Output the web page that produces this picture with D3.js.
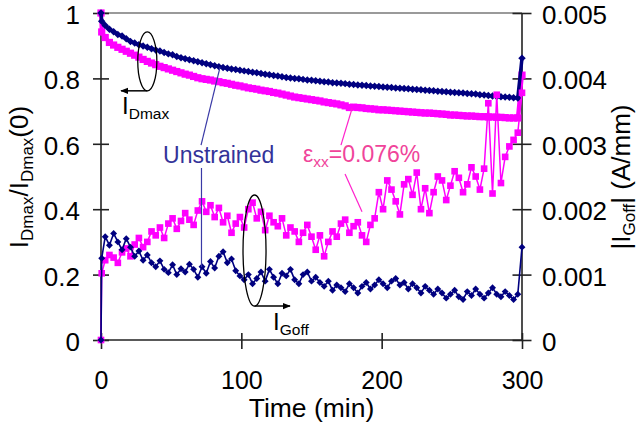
<!DOCTYPE html>
<html>
<head>
<meta charset="utf-8">
<script src="https://cdn.jsdelivr.net/npm/d3@7"></script>
<style>
  html, body { margin: 0; padding: 0; background: #fff; }
  svg { display: block; }
</style>
</head>
<body>
<svg id="chart" width="639" height="427"></svg>
<script>
// Sampling times (min): start at 0, first reading at 0.5 min, then every 3 min
const minutes = [0, 0.5].concat(d3.range(3, 301, 3));

// Normalised drain current I_Dmax / I_Dmax(0)  (left axis)
const idmaxUnstrained = [
  1.000, 0.975,
  0.962, 0.950, 0.943, 0.934, 0.930, 0.921, 0.913, 0.908, 0.903, 0.899,
  0.895, 0.891, 0.887, 0.884, 0.879, 0.875, 0.872, 0.867, 0.863, 0.860,
  0.857, 0.854, 0.851, 0.848, 0.845, 0.842, 0.839, 0.836, 0.833, 0.831,
  0.829, 0.827, 0.825, 0.823, 0.821, 0.819, 0.817, 0.815, 0.813, 0.811,
  0.809, 0.807, 0.805, 0.803, 0.801, 0.800, 0.799, 0.797, 0.795, 0.794,
  0.793, 0.791, 0.790, 0.789, 0.787, 0.786, 0.785, 0.784, 0.782, 0.781,
  0.780, 0.779, 0.778, 0.777, 0.776, 0.775, 0.774, 0.773, 0.772, 0.771,
  0.770, 0.769, 0.768, 0.767, 0.766, 0.765, 0.764, 0.763, 0.762, 0.761,
  0.760, 0.759, 0.758, 0.757, 0.756, 0.755, 0.754, 0.753, 0.752, 0.750,
  0.749, 0.748, 0.746, 0.745, 0.744, 0.743, 0.742, 0.741, 0.740, 0.862
];
const idmaxStrained = [
  1.000, 0.942,
  0.925, 0.910, 0.902, 0.895, 0.889, 0.883, 0.877, 0.871, 0.865, 0.858,
  0.852, 0.847, 0.842, 0.837, 0.833, 0.829, 0.825, 0.821, 0.817, 0.813,
  0.810, 0.806, 0.802, 0.799, 0.797, 0.795, 0.792, 0.790, 0.787, 0.785,
  0.782, 0.779, 0.777, 0.774, 0.771, 0.769, 0.767, 0.764, 0.762, 0.760,
  0.757, 0.755, 0.752, 0.749, 0.746, 0.743, 0.741, 0.739, 0.737, 0.735,
  0.733, 0.731, 0.728, 0.726, 0.724, 0.722, 0.719, 0.716, 0.711, 0.712,
  0.711, 0.710, 0.708, 0.707, 0.706, 0.704, 0.704, 0.703, 0.702, 0.701,
  0.700, 0.699, 0.698, 0.697, 0.696, 0.695, 0.694, 0.694, 0.693, 0.692,
  0.691, 0.690, 0.688, 0.688, 0.687, 0.686, 0.685, 0.685, 0.684, 0.683,
  0.683, 0.682, 0.682, 0.681, 0.681, 0.680, 0.679, 0.679, 0.679, 0.810
];

// Gate off-state leakage |I_Goff| in A/mm  (right axis)
const igoffUnstrained = [
  0, 0.00125,
  0.00158, 0.00145, 0.00163, 0.00150, 0.00138, 0.00155, 0.00142, 0.00128, 0.00136, 0.00122,
  0.00130, 0.00118, 0.00112, 0.00121, 0.00108, 0.00103, 0.00115, 0.00100, 0.00109, 0.00104,
  0.00116, 0.00108, 0.00096, 0.00112, 0.00102, 0.00120, 0.00110, 0.00128, 0.00135, 0.00118,
  0.00124, 0.00106, 0.00098, 0.00092, 0.00100, 0.00086, 0.00094, 0.00104, 0.00090, 0.00108,
  0.00096, 0.00086, 0.00102, 0.00098, 0.00108, 0.00092, 0.00086, 0.00100, 0.00104, 0.00090,
  0.00096, 0.00088, 0.00082, 0.00090, 0.00076, 0.00084, 0.00080, 0.00074, 0.00086, 0.00080,
  0.00072, 0.00082, 0.00088, 0.00078, 0.00084, 0.00092, 0.00086, 0.00080, 0.00090, 0.00094,
  0.00084, 0.00088, 0.00078, 0.00086, 0.00080, 0.00072, 0.00082, 0.00076, 0.00070, 0.00078,
  0.00072, 0.00064, 0.00070, 0.00076, 0.00066, 0.00062, 0.00074, 0.00068, 0.00078, 0.00070,
  0.00064, 0.00072, 0.00080, 0.00070, 0.00066, 0.00074, 0.00068, 0.00062, 0.00070, 0.00142
];
const igoffStrained = [
  0, 0.00102,
  0.00122, 0.00130, 0.00126, 0.00118, 0.00134, 0.00140, 0.00128, 0.00146, 0.00156, 0.00142,
  0.00150, 0.00166, 0.00160, 0.00172, 0.00156, 0.00178, 0.00186, 0.00170, 0.00182, 0.00194,
  0.00184, 0.00176, 0.00198, 0.00212, 0.00196, 0.00206, 0.00188, 0.00202, 0.00180, 0.00190,
  0.00164, 0.00178, 0.00188, 0.00172, 0.00200, 0.00210, 0.00186, 0.00196, 0.00168, 0.00190,
  0.00180, 0.00174, 0.00186, 0.00160, 0.00172, 0.00166, 0.00150, 0.00164, 0.00176, 0.00158,
  0.00138, 0.00160, 0.00128, 0.00150, 0.00166, 0.00158, 0.00178, 0.00184, 0.00164, 0.00174,
  0.00180, 0.00160, 0.00150, 0.00176, 0.00186, 0.00226, 0.00200, 0.00244, 0.00230, 0.00212,
  0.00192, 0.00238, 0.00246, 0.00222, 0.00256, 0.00200, 0.00232, 0.00194, 0.00226, 0.00250,
  0.00244, 0.00214, 0.00236, 0.00258, 0.00248, 0.00226, 0.00238, 0.00264, 0.00250, 0.00230,
  0.00262, 0.00362, 0.00224, 0.00375, 0.00240, 0.00280, 0.00296, 0.00306, 0.00317, 0.00378
];

// Axis ticks
const leftTicks = [0, 0.2, 0.4, 0.6, 0.8, 1];
const rightTicks = [0, 0.001, 0.002, 0.003, 0.004, 0.005];
const timeTicks = [0, 100, 200, 300];

const NAVY = "#000080";
const MAGENTA = "#ff00ff";
const FONT = '"Liberation Sans", Arial, Helvetica, sans-serif';

const svg = d3.select("#chart").attr("font-family", FONT);

const x = d3.scaleLinear().domain([0, 300]).range([101, 522]);
const yL = d3.scaleLinear().domain([0, 1]).range([340, 13]);
const yR = d3.scaleLinear().domain([0, 0.005]).range([340, 13]);

// Top frame line of the plot area
svg.append("line")
  .attr("x1", x(0)).attr("x2", x(300))
  .attr("y1", yL(1)).attr("y2", yL(1))
  .attr("stroke", "#9a9a9a").attr("stroke-width", 2);

function styleAxis(g, size) {
  g.select(".domain").remove();
  g.selectAll(".tick line").attr("stroke", "#222").attr("stroke-width", 1.6);
  g.selectAll(".tick text").attr("fill", "#000")
    .attr("font-family", FONT).attr("font-size", size);
}

// Left axis (ticks cross the axis line)
const gL = svg.append("g").attr("transform", `translate(${x(0)},0)`)
  .call(d3.axisLeft(yL).tickValues(leftTicks).tickFormat(d => String(d))
    .tickSize(8).tickPadding(13));
styleAxis(gL, 26);
gL.selectAll(".tick line").attr("x1", 8);
gL.selectAll(".tick text").attr("dy", "0.4em");

// Right axis
const gR = svg.append("g").attr("transform", `translate(${x(300)},0)`)
  .call(d3.axisRight(yR).tickValues(rightTicks).tickFormat(d => String(d))
    .tickSize(9.5).tickPadding(10.5));
styleAxis(gR, 26);
gR.selectAll(".tick line").attr("x1", -9.5);
gR.selectAll(".tick text").attr("dy", "0.4em");

// Bottom axis
const gB = svg.append("g").attr("transform", `translate(0,${yL(0)})`)
  .call(d3.axisBottom(x).tickValues(timeTicks).tickFormat(d => String(d))
    .tickSize(9).tickPadding(22));
styleAxis(gB, 25);
gB.selectAll(".tick line").attr("y1", -7);

// Axis lines
const axisLine = (x1, y1, x2, y2) => svg.append("line")
  .attr("x1", x1).attr("y1", y1).attr("x2", x2).attr("y2", y2)
  .attr("stroke", "#222").attr("stroke-width", 1.6);
axisLine(x(0), yL(1), x(0), yL(0));
axisLine(x(300), yR(0.005), x(300), yR(0));
axisLine(x(0), yL(0), x(300), yL(0));

// Axis titles
svg.append("text")
  .attr("x", (x(0) + x(300)) / 2).attr("y", 417)
  .attr("text-anchor", "middle").attr("font-size", 26.5).attr("fill", "#000")
  .text("Time (min)");

function subscriptTitle(parts, tx, ty) {
  const t = svg.append("text")
    .attr("transform", `translate(${tx},${ty}) rotate(-90)`)
    .attr("text-anchor", "middle").attr("fill", "#000").attr("font-size", 26);
  let shifted = false;
  parts.forEach(([str, sub]) => {
    const s = t.append("tspan").text(str);
    if (sub) {
      s.attr("font-size", 17);
      if (!shifted) { s.attr("dy", 5); shifted = true; }
    } else if (shifted) { s.attr("dy", -5); shifted = false; }
  });
  return t;
}
subscriptTitle([["I"], ["Dmax", true], ["/I"], ["Dmax", true], ["(0)"]], 28, 177);
subscriptTitle([["|I"], ["Goff", true], ["| (A/mm)"]], 630, 177);

// Marker shapes
const diamondType = {
  draw(ctx, size) {
    const r = Math.sqrt(size / 2);
    ctx.moveTo(0, -r); ctx.lineTo(r, 0); ctx.lineTo(0, r); ctx.lineTo(-r, 0); ctx.closePath();
  }
};

function drawSeries(vals, yScale, color, lineWidth, type, size) {
  const data = minutes.map((t, i) => ({ t, v: vals[i] }));
  const g = svg.append("g");
  g.append("path").datum(data)
    .attr("fill", "none").attr("stroke", color)
    .attr("stroke-width", lineWidth).attr("stroke-linejoin", "round")
    .attr("d", d3.line().x(d => x(d.t)).y(d => yScale(d.v)));
  const sym = d3.symbol().type(type).size(size);
  g.selectAll("path.m").data(data).join("path")
    .attr("class", "m")
    .attr("transform", d => `translate(${x(d.t)},${yScale(d.v)})`)
    .attr("d", sym).attr("fill", color);
}

drawSeries(idmaxStrained, yL, MAGENTA, 4, d3.symbolSquare, 52);
drawSeries(idmaxUnstrained, yL, NAVY, 3.5, diamondType, 28);
drawSeries(igoffStrained, yR, MAGENTA, 1.5, d3.symbolSquare, 44);
drawSeries(igoffUnstrained, yR, NAVY, 1.6, diamondType, 24);

// Annotations: ellipses with arrows pointing to the relevant axis
const defs = svg.append("defs");
defs.append("marker").attr("id", "arrow")
  .attr("viewBox", "0 0 10 10").attr("refX", 9).attr("refY", 5)
  .attr("markerWidth", 8).attr("markerHeight", 8)
  .attr("markerUnits", "userSpaceOnUse").attr("orient", "auto")
  .append("path").attr("d", "M0,1 L10,5 L0,9 Z").attr("fill", "#000");

function ellipseArrow(yScale, cT, cV, rT, rV, tipT, labelT, labelV, main, sub) {
  const cx = x(cT), cy = yScale(cV);
  const rx = x(cT + rT) - cx, ry = yScale(cV - rV) - cy;
  svg.append("ellipse").attr("cx", cx).attr("cy", cy).attr("rx", rx).attr("ry", ry)
    .attr("fill", "none").attr("stroke", "#000").attr("stroke-width", 1.3);
  svg.append("line").attr("x1", cx).attr("y1", cy + ry).attr("x2", x(tipT)).attr("y2", cy + ry)
    .attr("stroke", "#000").attr("stroke-width", 1.5).attr("marker-end", "url(#arrow)");
  const t = svg.append("text").attr("x", x(labelT)).attr("y", yScale(labelV))
    .attr("fill", "#000").attr("font-size", 24);
  t.append("tspan").text(main);
  t.append("tspan").attr("font-size", 15.5).attr("dy", 5).text(sub);
}
ellipseArrow(yL, 33, 0.852, 6.8, 0.09, 14.3, 15, 0.69, "I", "Dmax");
ellipseArrow(yR, 109.4, 0.001368, 8.2, 0.000849, 134.7, 122.6, 0.00015, "I", "Goff");

// Series labels with leader lines
function leader(t1, y1, t2, y2, color) {
  svg.append("line").attr("x1", x(t1)).attr("y1", y1).attr("x2", x(t2)).attr("y2", y2)
    .attr("stroke", color).attr("stroke-width", 1.2);
}
const UNSTRAINED_TXT = "#333399";
const STRAINED_TXT = "#f0449a";

svg.append("text").attr("x", x(44.2)).attr("y", yL(0.541))
  .attr("font-size", 23).attr("fill", UNSTRAINED_TXT).text("Unstrained");
leader(71.3, yL(0.596), 84.8, yL(0.834), "#3a3aa6");
leader(71.6, yL(0.526), 71.6, yR(0.00112), "#3a3aa6");

const eps = svg.append("text").attr("x", x(144)).attr("y", yL(0.544))
  .attr("font-size", 23).attr("fill", STRAINED_TXT);
eps.append("tspan").text("ε");
eps.append("tspan").attr("font-size", 15.5).attr("dy", 5).text("xx");
eps.append("tspan").attr("dy", -5).text("=0.076%");
leader(171, yL(0.596), 178.9, yL(0.708), "#ff22cc");
leader(173.9, yL(0.508), 186, yR(0.00196), "#ff22cc");
</script>
</body>
</html>
